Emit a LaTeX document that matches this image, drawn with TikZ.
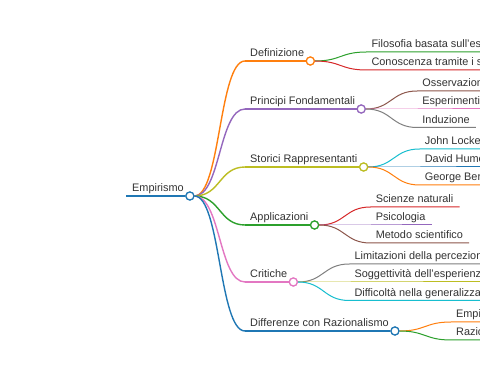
\documentclass[tikz,border=0pt]{standalone}
\usepackage{fontspec}
\setmainfont{Liberation Sans}
\usetikzlibrary{calc}
\definecolor{cblue}{HTML}{1F77B4}
\definecolor{corange}{HTML}{FF7F0E}
\definecolor{cgreen}{HTML}{2CA02C}
\definecolor{cred}{HTML}{D62728}
\definecolor{cpurple}{HTML}{9467BD}
\definecolor{cbrown}{HTML}{8C564B}
\definecolor{cpink}{HTML}{E377C2}
\definecolor{cgray}{HTML}{7F7F7F}
\definecolor{colive}{HTML}{BCBD22}
\definecolor{ccyan}{HTML}{17BECF}
\definecolor{txt}{HTML}{333333}
\begin{document}
\begin{tikzpicture}[x=1pt,y=-1pt,
  lbl/.style={anchor=base west, inner sep=0pt, text=txt, font=\fontsize{10.9}{12}\selectfont},
  dot/.style={circle, draw, fill=white, minimum size=8pt, inner sep=0pt, line width=1.2pt},
  l0/.style={line width=1.8pt},
  l1/.style={line width=1.4pt},
  l2/.style={line width=1pt}]
\useasboundingbox (0,0) rectangle (480,379);
\clip (0,0) rectangle (480,379);
\fill[white] (0,0) rectangle (480,379);

% root
\coordinate (rs) at (126,196);
\node[lbl] (root) at (132,192) {Empirismo};
\node[dot,draw=cblue] (rc) at ($(root.base east)+(6,4)$) {};
\draw[l0,cblue] (rs) -- (rc.west);

% ---------- level 1 ----------
% Definizione
\coordinate (s1) at (245,61);
\node[lbl] (n1) at (250,57) {Definizione};
\node[dot,draw=corange] (c1) at ($(n1.base east)+(6,4)$) {};
\draw[l1,corange] (rc.east) .. controls ($(rc.east)+(26,0)$) and ($(s1)+(-26,0)$) .. (s1);
\draw[l1,corange] (s1) -- (c1.west);
% Principi Fondamentali
\coordinate (s2) at (245,109);
\node[lbl] (n2) at (250,105) {Principi Fondamentali};
\node[dot,draw=cpurple] (c2) at ($(n2.base east)+(6,4)$) {};
\draw[l1,cpurple] (rc.east) .. controls ($(rc.east)+(26,0)$) and ($(s2)+(-26,0)$) .. (s2);
\draw[l1,cpurple] (s2) -- (c2.west);
% Storici Rappresentanti
\coordinate (s3) at (245,167);
\node[lbl] (n3) at (250,163) {Storici Rappresentanti};
\node[dot,draw=colive] (c3) at ($(n3.base east)+(6,4)$) {};
\draw[l1,colive] (rc.east) .. controls ($(rc.east)+(26,0)$) and ($(s3)+(-26,0)$) .. (s3);
\draw[l1,colive] (s3) -- (c3.west);
% Applicazioni
\coordinate (s4) at (245,225);
\node[lbl] (n4) at (250,221) {Applicazioni};
\node[dot,draw=cgreen] (c4) at ($(n4.base east)+(6,4)$) {};
\draw[l1,cgreen] (rc.east) .. controls ($(rc.east)+(26,0)$) and ($(s4)+(-26,0)$) .. (s4);
\draw[l1,cgreen] (s4) -- (c4.west);
% Critiche
\coordinate (s5) at (245,282);
\node[lbl] (n5) at (250,278) {Critiche};
\node[dot,draw=cpink] (c5) at ($(n5.base east)+(6,4)$) {};
\draw[l1,cpink] (rc.east) .. controls ($(rc.east)+(26,0)$) and ($(s5)+(-26,0)$) .. (s5);
\draw[l1,cpink] (s5) -- (c5.west);
% Differenze con Razionalismo
\coordinate (s6) at (245,331);
\node[lbl] (n6) at (250,327) {Differenze con Razionalismo};
\node[dot,draw=cblue] (c6) at ($(n6.base east)+(6,4)$) {};
\draw[l1,cblue] (rc.east) .. controls ($(rc.east)+(26,0)$) and ($(s6)+(-26,0)$) .. (s6);
\draw[l1,cblue] (s6) -- (c6.west);

% ---------- level 2 ----------
% Definizione children
\coordinate (a1) at ($(c1)+(56,-9)$);
\node[lbl] (m1) at ($(a1)+(5,-4)$) {Filosofia basata sull'esperienza};
\draw[l2,cgreen] (c1.east) .. controls ($(c1.east)+(26,0)$) and ($(a1)+(-26,0)$) .. (a1) -- ($(m1.base east)+(6,4)$);
\coordinate (a2) at ($(c1)+(56,9)$);
\node[lbl] (m2) at ($(a2)+(5,-4)$) {Conoscenza tramite i sensi};
\draw[l2,cred] (c1.east) .. controls ($(c1.east)+(26,0)$) and ($(a2)+(-26,0)$) .. (a2) -- ($(m2.base east)+(6,4)$);

% Principi children
\coordinate (b1) at ($(c2)+(56,-18)$);
\node[lbl] (p1) at ($(b1)+(5,-4)$) {Osservazione};
\draw[l2,cbrown] (c2.east) .. controls ($(c2.east)+(26,0)$) and ($(b1)+(-26,0)$) .. (b1) -- ($(p1.base east)+(6,4)$);
\coordinate (b2) at ($(c2)+(56,0)$);
\node[lbl] (p2) at ($(b2)+(5,-4)$) {Esperimenti};
\draw[l2,cpink] (c2.east) -- (b2) -- ($(p2.base east)+(6,4)$);
\coordinate (b3) at ($(c2)+(56,18.5)$);
\node[lbl] (p3) at ($(b3)+(5,-4)$) {Induzione};
\draw[l2,cgray] (c2.east) .. controls ($(c2.east)+(26,0)$) and ($(b3)+(-26,0)$) .. (b3) -- ($(p3.base east)+(6,4)$);

% Storici children
\coordinate (d1) at ($(c3)+(56,-18)$);
\node[lbl] (q1) at ($(d1)+(5,-4)$) {John Locke};
\draw[l2,ccyan] (c3.east) .. controls ($(c3.east)+(26,0)$) and ($(d1)+(-26,0)$) .. (d1) -- ($(q1.base east)+(6,4)$);
\coordinate (d2) at ($(c3)+(56,0)$);
\node[lbl] (q2) at ($(d2)+(5,-4)$) {David Hume};
\draw[l2,cblue] (c3.east) -- (d2) -- ($(q2.base east)+(6,4)$);
\coordinate (d3) at ($(c3)+(56,18)$);
\node[lbl] (q3) at ($(d3)+(5,-4)$) {George Berkeley};
\draw[l2,corange] (c3.east) .. controls ($(c3.east)+(26,0)$) and ($(d3)+(-26,0)$) .. (d3) -- ($(q3.base east)+(6,4)$);

% Applicazioni children
\coordinate (e1) at ($(c4)+(56,-18)$);
\node[lbl] (r1) at ($(e1)+(5,-4)$) {Scienze naturali};
\draw[l2,cred] (c4.east) .. controls ($(c4.east)+(26,0)$) and ($(e1)+(-26,0)$) .. (e1) -- ($(r1.base east)+(6,4)$);
\coordinate (e2) at ($(c4)+(56,0)$);
\node[lbl] (r2) at ($(e2)+(5,-4)$) {Psicologia};
\draw[l2,cpurple] (c4.east) -- (e2) -- ($(r2.base east)+(6,4)$);
\coordinate (e3) at ($(c4)+(56,18)$);
\node[lbl] (r3) at ($(e3)+(5,-4)$) {Metodo scientifico};
\draw[l2,cbrown] (c4.east) .. controls ($(c4.east)+(26,0)$) and ($(e3)+(-26,0)$) .. (e3) -- ($(r3.base east)+(6,4)$);

% Critiche children
\coordinate (f1) at ($(c5)+(56,-18)$);
\node[lbl] (t1) at ($(f1)+(5,-4)$) {Limitazioni della percezione};
\draw[l2,cgray] (c5.east) .. controls ($(c5.east)+(26,0)$) and ($(f1)+(-26,0)$) .. (f1) -- ($(t1.base east)+(6,4)$);
\coordinate (f2) at ($(c5)+(56,0)$);
\node[lbl] (t2) at ($(f2)+(5,-4)$) {Soggettività dell'esperienza};
\draw[l2,colive] (c5.east) -- (f2) -- ($(t2.base east)+(6,4)$);
\coordinate (f3) at ($(c5)+(56,18.5)$);
\node[lbl] (t3) at ($(f3)+(5,-4)$) {Difficoltà nella generalizzazione};
\draw[l2,ccyan] (c5.east) .. controls ($(c5.east)+(26,0)$) and ($(f3)+(-26,0)$) .. (f3) -- ($(t3.base east)+(6,4)$);

% Differenze children
\coordinate (g1) at ($(c6)+(56,-9)$);
\node[lbl] (u1) at ($(g1)+(5,-4)$) {Empirismo};
\draw[l2,corange] (c6.east) .. controls ($(c6.east)+(26,0)$) and ($(g1)+(-26,0)$) .. (g1) -- ($(u1.base east)+(6,4)$);
\coordinate (g2) at ($(c6)+(56,9)$);
\node[lbl] (u2) at ($(g2)+(5,-4)$) {Razionalismo};
\draw[l2,cgreen] (c6.east) .. controls ($(c6.east)+(26,0)$) and ($(g2)+(-26,0)$) .. (g2) -- ($(u2.base east)+(6,4)$);

% redraw dots on top
\foreach \c/\col in {rc/cblue,c1/corange,c2/cpurple,c3/colive,c4/cgreen,c5/cpink,c6/cblue}
  \draw[line width=1.2pt,draw=\col,fill=white] (\c) circle (4pt);
\end{tikzpicture}
\end{document}
